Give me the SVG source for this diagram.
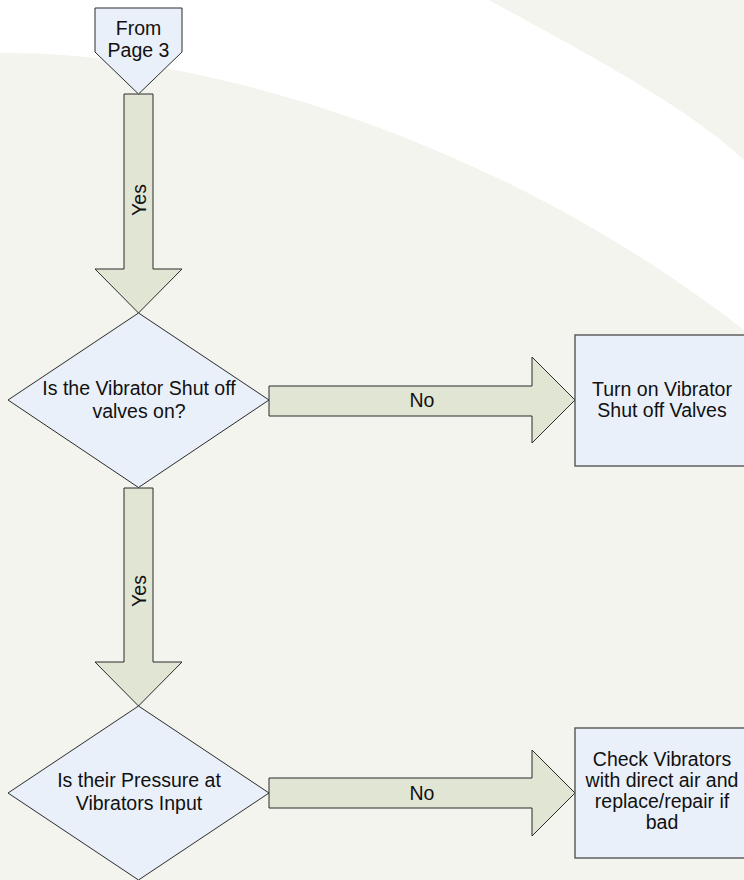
<svg xmlns="http://www.w3.org/2000/svg" width="744" height="880" viewBox="0 0 744 880">
  <style>
    .node { fill: #eaf0f9; stroke: #2b2b2b; stroke-width: 1; }
    .box { fill: #eaf0f9; stroke: #555; stroke-width: 1.4; }
    .flow { fill: #e1e5d3; stroke: #2b2b2b; stroke-width: 1; }
    text { font-family: "Liberation Sans", Arial, sans-serif; font-size: 19.5px; fill: #111; text-anchor: middle; }
  </style>

  <!-- background with white sweep -->
  <rect x="0" y="0" width="744" height="880" fill="#f3f4ee"/>
  <path d="M0,0 L489,0 C560,40 680,100 744,160 L744,330 C500,140 200,50 0,53 Z" fill="#ffffff"/>

  <!-- connectors -->
  <g id="connectors">
    <g id="yes-1">
      <polygon class="flow" points="124,94 153,94 153,269 182,269 138.5,313 95,269 124,269"/>
      <text transform="translate(145.5,200) rotate(-90)">Yes</text>
    </g>
    <g id="no-1">
      <polygon class="flow" points="269,386 532,386 532,357 575,400 532,443 532,416 269,416"/>
      <text x="422" y="407">No</text>
    </g>
    <g id="yes-2">
      <polygon class="flow" points="124,488 153,488 153,662 182,662 138.5,706 95,662 124,662"/>
      <text transform="translate(145.5,591) rotate(-90)">Yes</text>
    </g>
    <g id="no-2">
      <polygon class="flow" points="269,778 532,778 532,750 575,793 532,836 532,808 269,808"/>
      <text x="422" y="800">No</text>
    </g>
  </g>

  <!-- off-page connector -->
  <g id="from-page-3">
    <polygon class="node" points="95,8 182,8 182,52 138.5,94 95,52"/>
    <text x="138.5" y="35">From</text>
    <text x="138.5" y="57">Page 3</text>
  </g>

  <!-- decisions -->
  <g id="decision-shutoff">
    <polygon class="node" points="138.5,313 269,400 138.5,487.5 8,400"/>
    <text x="139" y="395">Is the Vibrator Shut off</text>
    <text x="139" y="418">valves on?</text>
  </g>
  <g id="decision-pressure">
    <polygon class="node" points="138.5,706 269,793 138.5,880 8,793"/>
    <text x="139" y="787">Is their Pressure at</text>
    <text x="139" y="810">Vibrators Input</text>
  </g>

  <!-- actions -->
  <g id="action-turn-on">
    <rect class="box" x="575" y="335" width="176" height="131"/>
    <text x="662" y="396">Turn on Vibrator</text>
    <text x="662" y="417">Shut off Valves</text>
  </g>
  <g id="action-check">
    <rect class="box" x="575" y="728" width="176" height="130"/>
    <text x="662" y="766">Check Vibrators</text>
    <text x="662" y="787">with direct air and</text>
    <text x="662" y="808">replace/repair if</text>
    <text x="662" y="829">bad</text>
  </g>
</svg>
